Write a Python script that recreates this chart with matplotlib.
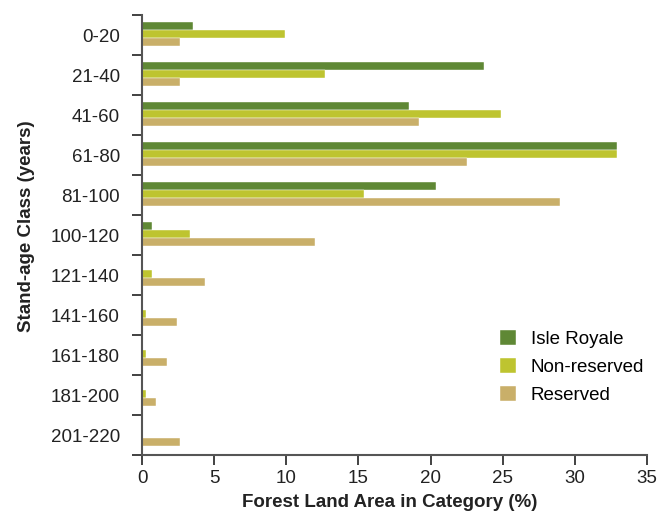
import matplotlib
matplotlib.use("Agg")
import matplotlib.pyplot as plt
import numpy as np

plt.rcParams['font.family'] = ['Liberation Sans', 'DejaVu Sans']

categories = ["0-20", "21-40", "41-60", "61-80", "81-100", "100-120",
              "121-140", "141-160", "161-180", "181-200", "201-220"]
isle_royale = [3.5, 23.7, 18.5, 32.9, 20.4, 0.7, 0, 0, 0, 0, 0]
non_reserved = [9.9, 12.7, 24.9, 32.9, 15.4, 3.3, 0.7, 0.3, 0.3, 0.3, 0]
reserved = [2.6, 2.6, 19.2, 22.5, 29.0, 12.0, 4.4, 2.4, 1.7, 1.0, 2.6]
series_names = ["Isle Royale", "Non-reserved", "Reserved"]
colors = ["#5F8835", "#BEC430", "#C9AF69"]
xticks = [0, 5, 10, 15, 20, 25, 30, 35]

FS = 13.5
fig = plt.figure(figsize=(6.69, 5.16), dpi=100)
ax = fig.add_axes([142/669, 1-455/516, 505/669, 440/516])

y = np.arange(len(categories))
h = 0.2
for k, (vals, name, c) in enumerate(zip([isle_royale, non_reserved, reserved], series_names, colors)):
    ax.barh(y + (k - 1) * h - 0.025, vals, height=h, color=c, label=name,
            edgecolor='white', linewidth=0.3)

ax.set_ylim(len(categories) - 0.5, -0.5)
ax.set_xlim(0, 35)
ax.set_xticks(xticks)
ax.set_xticklabels([str(t) for t in xticks])
ax.set_yticks(np.arange(-0.5, len(categories), 1.0))
ax.set_yticklabels([])
ax.set_yticks(y, minor=True)
ax.set_yticklabels(categories, minor=True)
ax.tick_params(axis='y', which='minor', length=0, pad=16, labelsize=FS, labelcolor='#222222')
ax.tick_params(axis='y', which='major', length=7, width=1.3, color='#333333', direction='out')
ax.tick_params(axis='x', length=7, width=1.3, color='#333333', direction='out', labelsize=FS,
               labelcolor='#222222', pad=4)

for s in ['top', 'right']:
    ax.spines[s].set_visible(False)
for s in ['left', 'bottom']:
    ax.spines[s].set_color('#555555')
    ax.spines[s].set_linewidth(1.5)

ax.set_xlabel("Forest Land Area in Category (%)", fontsize=FS, fontweight='bold', color='#222222')
ax.set_ylabel("Stand-age Class (years)", fontsize=FS, fontweight='bold', color='#222222')
ax.xaxis.set_label_coords(0.491, -0.089)
ax.yaxis.set_label_coords(-0.212, 0.52)

leg = ax.legend(loc='upper left', bbox_to_anchor=(0.709, 0.284), frameon=False, fontsize=FS,
                handlelength=0.85, handleheight=0.85, labelspacing=0.53, handletextpad=0.8,
                borderpad=0, borderaxespad=0)

fig.savefig("out.png", dpi=100)
